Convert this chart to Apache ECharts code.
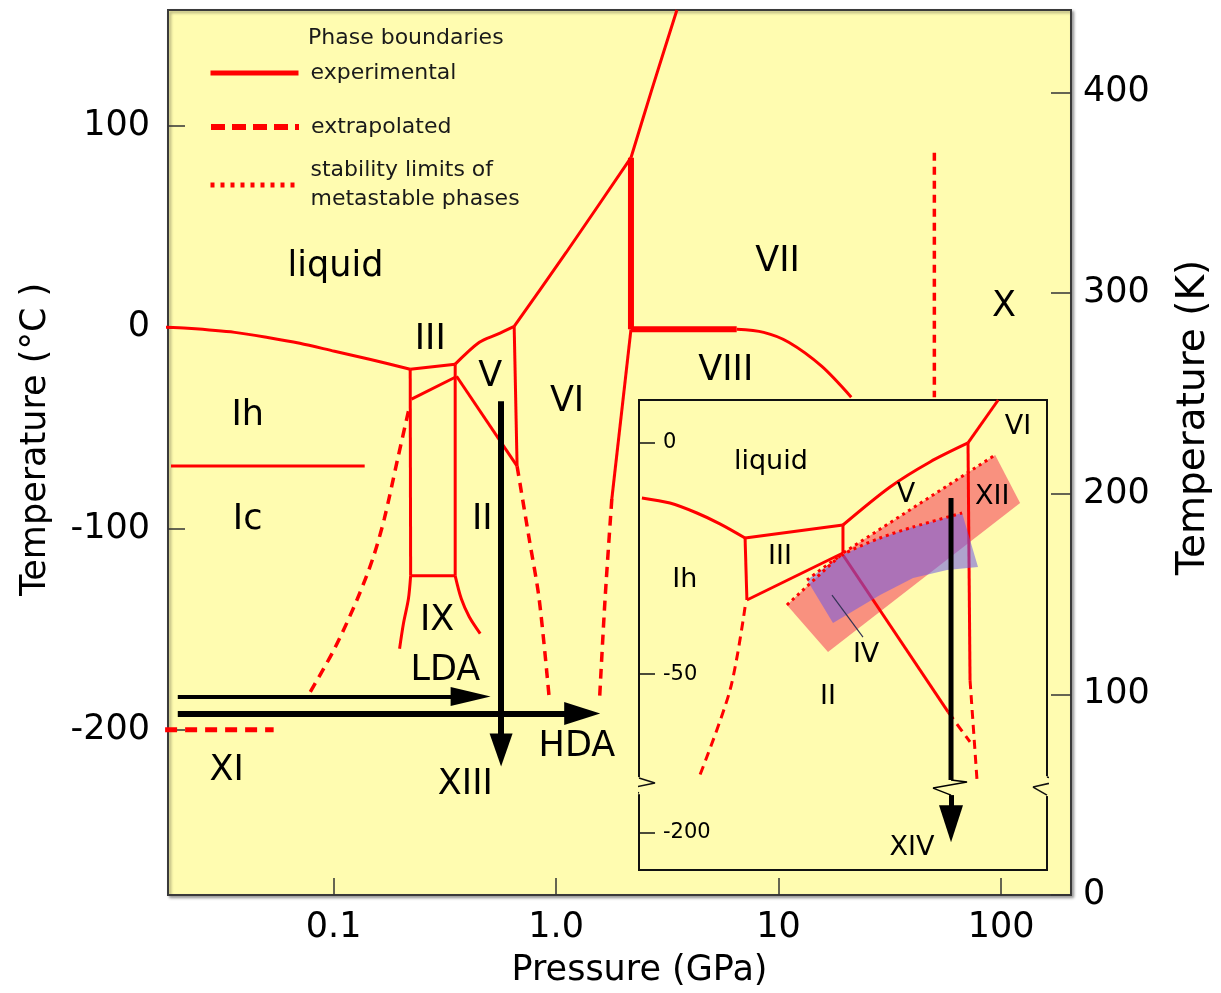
<!DOCTYPE html>
<html>
<head>
<meta charset="utf-8">
<script src="https://cdn.jsdelivr.net/npm/echarts@6/dist/echarts.min.js"></script>
<style>
  html, body { margin: 0; background: #fff; }
  #chart { width: 1221px; height: 993px; }
</style>
</head>
<body>
<div id="chart"></div>
<script>
const RED = '#ff0000';
const INK = '#000000';
const YELLOW = '#fffcb0';
const FONT = 'DejaVu Sans';
const SOLID = 'experimental';
const DASHED = 'extrapolated';
const DOTTED = 'stability limits of metastable phases';

// ---- main diagram: [pressure GPa, temperature °C] ----
const meltIh = [[0.0175, 0], [0.0221, -0.5], [0.036, -2.5], [0.0506, -5], [0.0705, -7.9], [0.101, -11.9], [0.145, -15.9], [0.221, -20.8]];
const meltIII = [[0.221, -20.8], [0.352, -18.3]];
const meltV = [[0.352, -18.3], [0.452, -7.4], [0.543, -3.5], [0.648, 0.5]];
const meltVI = [[0.648, 0.5], [1.11, 37.2], [2.17, 84.3]];
const meltVII = [[2.17, 84.3], [2.69, 118], [3.49, 157.7]];
const bndVIVII = [[2.17, 84.3], [2.17, -1]];
const bndVIIVIIIflat = [[2.17, -1], [6.48, -1]];
const bndVIIVIII = [[6.48, -1], [8.57, -2.5], [11.1, -7.4], [15.6, -19.3], [21.2, -34.7]];
const bndVIVIII = [[2.17, -1], [1.78, -85.3]];
const bndVIVIIIext = [[1.78, -85.3], [1.66, -134.9], [1.57, -183.5]];
const bndVVI = [[0.648, 0.5], [0.668, -69]];
const bndIIV = [[0.357, -24.3], [0.668, -69]];
const bndIIVIext = [[0.668, -69], [0.757, -105.1], [0.839, -134.9], [0.93, -183.5]];
const bndIhIII = [[0.221, -20.8], [0.222, -123.5]];
const bndIXleft = [[0.222, -123.5], [0.217, -134.9], [0.206, -147.3], [0.198, -159.7]];
const bndIIIV = [[0.352, -18.3], [0.352, -123.5]];
const bndIXright = [[0.352, -123.5], [0.375, -134.9], [0.407, -143.8], [0.456, -152.2]];
const bndIXtop = [[0.222, -123.5], [0.352, -123.5]];
const bndIIIII = [[0.224, -35.7], [0.352, -24.8]];
const bndIhIIext = [[0.217, -41.7], [0.194, -65.5], [0.169, -95.2], [0.15, -115], [0.128, -134.9], [0.101, -159.7], [0.0764, -183.5]];
const bndIhIc = [[0.0186, -68.9], [0.138, -68.9]];
const bndXIext = [[0.0175, -200], [0.0538, -200]];
const bndXext = [[50.1, 86.8], [50.1, -34.7]];

const arrowLDA = [[0.01995, -183.5], [0.413, -183.5]];
const arrowHDA = [[0.01995, -191.9], [1.31, -191.9]];
const arrowXIII = [[0.566, -36.7], [0.566, -210]];

const mainLabels = ['liquid', 'III', 'V', 'VI', 'VII', 'VIII', 'X', 'Ih', 'Ic', 'II', 'IX', 'LDA', 'HDA', 'XI', 'XIII'];
const mainLabelPos = [[0.102, 29.8], [0.272, -6], [0.506, -24.8], [1.12, -37.2], [9.9, 32.7], [5.79, -21.8], [103, 10.4],
  [0.0411, -44.1], [0.0411, -95.7], [0.466, -95.7], [0.292, -145.8], [0.318, -170.6], [1.24, -208.3], [0.0331, -220.2], [0.391, -227.6]];

const tempTicksC = [-200, -100, 0, 100];
const tempTicksK = [0, 100, 200, 300, 400];

// ---- inset: [pressure GPa, temperature °C], axis broken below -75 °C ----
const insetTicks = [0, -50, -84.4];
const insetTickText = ['0', '-50', '-200'];
const inMeltIh = [[0.1263, -11.9], [0.145, -13.0], [0.1656, -15.15], [0.1855, -17.5], [0.21, -20.56]];
const inMeltIII = [[0.21, -20.56], [0.3402, -17.75]];
const inIhIII = [[0.21, -20.56], [0.2119, -33.98]];
const inIIIII = [[0.2119, -33.98], [0.3402, -23.81]];
const inIIIV = [[0.3402, -17.75], [0.3402, -23.81]];
const inIhIIext = [[0.21, -35.5], [0.195, -53.46], [0.1665, -72.94]];
const inMeltV = [[0.3402, -17.75], [0.4291, -9.52], [0.5225, -4.11], [0.6301, 0]];
const inMeltVI = [[0.6301, 0], [0.7312, 9.3]];
const inVVI = [[0.6301, 0], [0.6364, -51.3]];
const inVVIext = [[0.6364, -51.3], [0.6587, -72.94]];
const inIIV = [[0.3402, -24.24], [0.5711, -58.2]];
const inIIVext = [[0.5711, -58.2], [0.6364, -64.7]];
const bandXII = [[0.2581, -35.06], [0.3402, -23.81], [0.7203, -2.6], [0.8145, -12.99], [0.316, -45.24]];
const bandIV = [[0.285, -29.65], [0.3386, -24.24], [0.4085, -20.56], [0.4806, -18.18], [0.612, -15.15],
  [0.6619, -26.84], [0.5682, -27.49], [0.4806, -29.22], [0.4085, -32.9], [0.3239, -38.96]];
const limitXII = [[0.2581, -35.06], [0.3402, -23.81], [0.7203, -2.6]];
const limitIV = [[0.285, -29.65], [0.3386, -24.24], [0.4085, -20.56], [0.4806, -18.18], [0.612, -15.15]];
const pointerIV = [[0.3223, -32.9], [0.3755, -41.99]];
const arrowXIVtop = [[0.5795, -11.9], [0.5795, -72.94]];
const arrowXIV = [[0.5795, -76.19], [0.5795, -82.4]];
const breakLeft = [[0.1245, -72.51], [0.1347, -73.59], [0.1191, -74.68], [0.1245, -75.76]];
const breakRight = [[0.93, -72.29], [1.0067, -72.94], [0.8683, -74.46], [0.93, -76.19]];
const breakXIV = [[0.5795, -72.94], [0.6271, -73.38], [0.5304, -74.68], [0.5795, -76.19]];
const gapLeft = [[0.1245, -72.3], [0.1245, -76]];
const gapRight = [[0.93, -72.1], [0.93, -76.4]];

const insetLabels = ['liquid', 'Ih', 'III', 'V', 'VI', 'XII', 'IV', 'II', 'XIV'];
const insetLabelPos = [[0.2385, -4.11], [0.1561, -29.65], [0.2495, -24.68], [0.4643, -11.26], [0.8065, 3.46],
  [0.7097, -11.69], [0.3813, -45.89], [0.316, -54.98], [0.4782, -87.66]];

function line(name, data, o = {}) {
  const inset = o.inset;
  return {
    type: 'line', name, data, symbol: 'none', silent: true,
    xAxisIndex: inset ? 1 : 0, yAxisIndex: inset ? 2 : 0,
    z: o.z || (inset ? 7 : 2), clip: o.clip !== false,
    smooth: o.smooth || 0,
    lineStyle: { color: o.color || RED, width: o.width || 3, type: o.type || 'solid', cap: 'butt' }
  };
}

function arrow(data, head, width, inset) {
  return {
    type: 'line', data: [], silent: true,
    xAxisIndex: inset ? 1 : 0, yAxisIndex: inset ? 2 : 0, z: inset ? 10 : 3,
    markLine: {
      silent: true, animation: false, symbol: ['none', 'triangle'], symbolSize: head,
      label: { show: false }, emphasis: { disabled: true },
      lineStyle: { color: '#000', width, type: 'solid' },
      data: [[{ coord: data[0] }, { coord: data[1] }]]
    }
  };
}

function polygon(points, fill, z) {
  return {
    type: 'custom', xAxisIndex: 1, yAxisIndex: 2, z, silent: true, data: points,
    renderItem: (params, api) => {
      if (params.dataIndex !== 0) return;
      return { type: 'polygon', shape: { points: points.map(p => api.coord(p)) }, style: { fill } };
    }
  };
}

function labels(names, pos, size, inset) {
  return {
    type: 'scatter', silent: true, symbolSize: 1, itemStyle: { color: 'rgba(0,0,0,0)' },
    xAxisIndex: inset ? 1 : 0, yAxisIndex: inset ? 2 : 0, z: inset ? 10 : 3,
    data: names.map((n, i) => ({ name: n, value: pos[i] })),
    label: { show: true, position: 'inside', formatter: '{b}', fontSize: size, fontFamily: FONT, color: INK, opacity: 1 },
    labelLayout: { hideOverlap: false }
  };
}

function legendItem(name, top, lineStyle, lineHeight) {
  return {
    data: [name], left: 208, top, padding: 0, orient: 'vertical', selectedMode: false,
    itemWidth: 88, itemHeight: 14,
    itemStyle: { opacity: 0 },
    lineStyle: Object.assign({ color: RED, cap: 'butt' }, lineStyle),
    formatter: n => (n === DOTTED ? 'stability limits of\nmetastable phases' : n),
    textStyle: { fontSize: 22, lineHeight, color: '#1a1a1a', fontFamily: FONT, padding: [0, 0, 0, 7] }
  };
}

const tickStyle = { color: '#333', width: 1.5 };

const option = {
  animation: false,
  backgroundColor: '#ffffff',
  textStyle: { fontFamily: FONT },
  title: {
    text: 'Phase boundaries', left: 308, top: 27, padding: 0,
    textStyle: { fontSize: 22, fontWeight: 'normal', color: '#1a1a1a', fontFamily: FONT }
  },
  legend: [
    legendItem(SOLID, 61, { width: 5, type: 'solid' }, 24),
    legendItem(DASHED, 115, { width: 6, type: [14, 7] }, 24),
    legendItem(DOTTED, 156, { width: 5, type: [4, 6] }, 29)
  ],
  grid: [
    { left: 168, right: 148, top: 10, bottom: 96, show: true, backgroundColor: YELLOW,
      borderColor: '#3a3a3a', borderWidth: 2, shadowColor: 'rgba(0,0,0,0.35)', shadowBlur: 3, shadowOffsetX: 2, shadowOffsetY: 2 },
    { left: 639, top: 400, width: 408, height: 470, show: true, backgroundColor: YELLOW,
      borderColor: '#111', borderWidth: 2, z: 5 }
  ],
  xAxis: [
    {
      type: 'log', logBase: 10, gridIndex: 0, min: 0.01803, max: 206, position: 'bottom',
      axisLine: { show: false, onZero: false }, splitLine: { show: false },
      axisTick: { inside: true, length: 17, lineStyle: tickStyle },
      axisLabel: {
        margin: 15, fontSize: 35, color: INK, showMinLabel: false, showMaxLabel: false,
        formatter: v => (Math.abs(v - 1) < 1e-9 ? '1.0' : String(+(+v).toPrecision(3)))
      },
      name: 'Pressure (GPa)', nameLocation: 'middle', nameGap: 58,
      nameTextStyle: { fontSize: 35, color: INK, padding: [0, 0, 0, 40] }
    },
    { type: 'log', logBase: 10, gridIndex: 1, min: 0.1245, max: 0.93, show: false, axisLine: { onZero: false } }
  ],
  yAxis: [
    {
      type: 'value', gridIndex: 0, position: 'left', min: -282.1, max: 157.7,
      axisLine: { show: false, onZero: false }, splitLine: { show: false },
      axisTick: { inside: true, length: 17, customValues: tempTicksC, lineStyle: tickStyle },
      axisLabel: { customValues: tempTicksC, margin: 18, fontSize: 35, color: INK },
      name: 'Temperature (°C )', nameLocation: 'middle', nameRotate: 90, nameGap: 115,
      nameTextStyle: { fontSize: 35, color: INK, padding: [0, 0, 0, 26] }
    },
    {
      type: 'value', gridIndex: 0, position: 'right', min: 0, max: 441,
      axisLine: { show: false, onZero: false }, splitLine: { show: false },
      axisTick: { inside: true, length: 20, customValues: tempTicksK, lineStyle: tickStyle },
      axisLabel: { customValues: tempTicksK, margin: 12, fontSize: 35, color: INK },
      name: 'Temperature (K)', nameLocation: 'middle', nameRotate: 90, nameGap: 103,
      nameTextStyle: { fontSize: 39, color: INK, padding: [0, 0, 0, 70] }
    },
    {
      type: 'value', gridIndex: 1, min: -92.4, max: 9.3, z: 6,
      axisLine: { show: false, onZero: false }, splitLine: { show: false },
      axisTick: { inside: true, length: 16, customValues: insetTicks, lineStyle: { color: '#111', width: 1.5 } },
      axisLabel: {
        inside: true, margin: 24, customValues: insetTicks, fontSize: 21, color: INK,
        formatter: v => {
          let best = 0;
          insetTicks.forEach((t, i) => { if (Math.abs(t - v) < Math.abs(insetTicks[best] - v)) best = i; });
          return insetTickText[best];
        }
      }
    }
  ],
  series: [
    // main diagram
    line(SOLID, meltIh, { smooth: 0.3 }),
    line(SOLID, meltIII),
    line(SOLID, meltV, { smooth: 0.3 }),
    line(SOLID, meltVI, { smooth: 0.2 }),
    line(SOLID, meltVII, { smooth: 0.2 }),
    line(SOLID, bndVIVII, { width: 6 }),
    line(SOLID, bndVIIVIIIflat, { width: 6 }),
    line(SOLID, bndVIIVIII, { smooth: 0.3 }),
    line(SOLID, bndVIVIII),
    line(DASHED, bndVIVIIIext, { type: [10, 7], width: 3.5, smooth: 0.3 }),
    line(SOLID, bndVVI),
    line(SOLID, bndIIV),
    line(DASHED, bndIIVIext, { type: [10, 7], width: 3.5, smooth: 0.3 }),
    line(SOLID, bndIhIII),
    line(SOLID, bndIXleft, { smooth: 0.3 }),
    line(SOLID, bndIIIV),
    line(SOLID, bndIXright, { smooth: 0.3 }),
    line(SOLID, bndIXtop),
    line(SOLID, bndIIIII),
    line(DASHED, bndIhIIext, { type: [10, 7], width: 3.5, smooth: 0.3 }),
    line(SOLID, bndIhIc),
    line(DASHED, bndXIext, { type: [12, 8], width: 5 }),
    line(DASHED, bndXext, { type: [8, 6], width: 3.5 }),
    arrow(arrowLDA, [19, 40], 4),
    arrow(arrowHDA, [23, 36], 6),
    arrow(arrowXIII, [23, 33], 6),
    labels(mainLabels, mainLabelPos, 35),

    // inset
    polygon(bandXII, '#f9917f', 6),
    line(SOLID, inMeltIh, { inset: true, smooth: 0.3 }),
    line(SOLID, inMeltIII, { inset: true }),
    line(SOLID, inIhIII, { inset: true }),
    line(SOLID, inIIIII, { inset: true }),
    line(SOLID, inIIIV, { inset: true }),
    line(DASHED, inIhIIext, { inset: true, type: [9, 6], smooth: 0.3 }),
    line(SOLID, inMeltV, { inset: true, smooth: 0.3 }),
    line(SOLID, inMeltVI, { inset: true }),
    line(SOLID, inVVI, { inset: true }),
    line(DASHED, inVVIext, { inset: true, type: [9, 6] }),
    line(SOLID, inIIV, { inset: true }),
    line(DASHED, inIIVext, { inset: true, type: [9, 6] }),
    polygon(bandIV, 'rgba(110,90,230,0.55)', 8),
    line(DOTTED, limitXII, { inset: true, z: 9, type: [3, 4], width: 3 }),
    line(DOTTED, limitIV, { inset: true, z: 9, type: [3, 4], width: 3, smooth: 0.3 }),
    line(null, pointerIV, { inset: true, z: 9, width: 1.2, color: '#333355' }),
    line(null, arrowXIVtop, { inset: true, z: 10, width: 5, color: '#000' }),
    arrow(arrowXIV, [24, 37], 5, true),
    line(null, gapLeft, { inset: true, z: 11, width: 4, color: YELLOW, clip: false }),
    line(null, gapRight, { inset: true, z: 11, width: 4, color: YELLOW, clip: false }),
    line(null, breakLeft, { inset: true, z: 12, width: 1.5, color: '#111', clip: false }),
    line(null, breakRight, { inset: true, z: 12, width: 1.5, color: '#111', clip: false }),
    line(null, breakXIV, { inset: true, z: 12, width: 1.5, color: '#000', clip: false }),
    labels(insetLabels, insetLabelPos, 27, true)
  ]
};

const chart = echarts.init(document.getElementById('chart'), null, { renderer: 'canvas' });
chart.setOption(option);
</script>
</body>
</html>
